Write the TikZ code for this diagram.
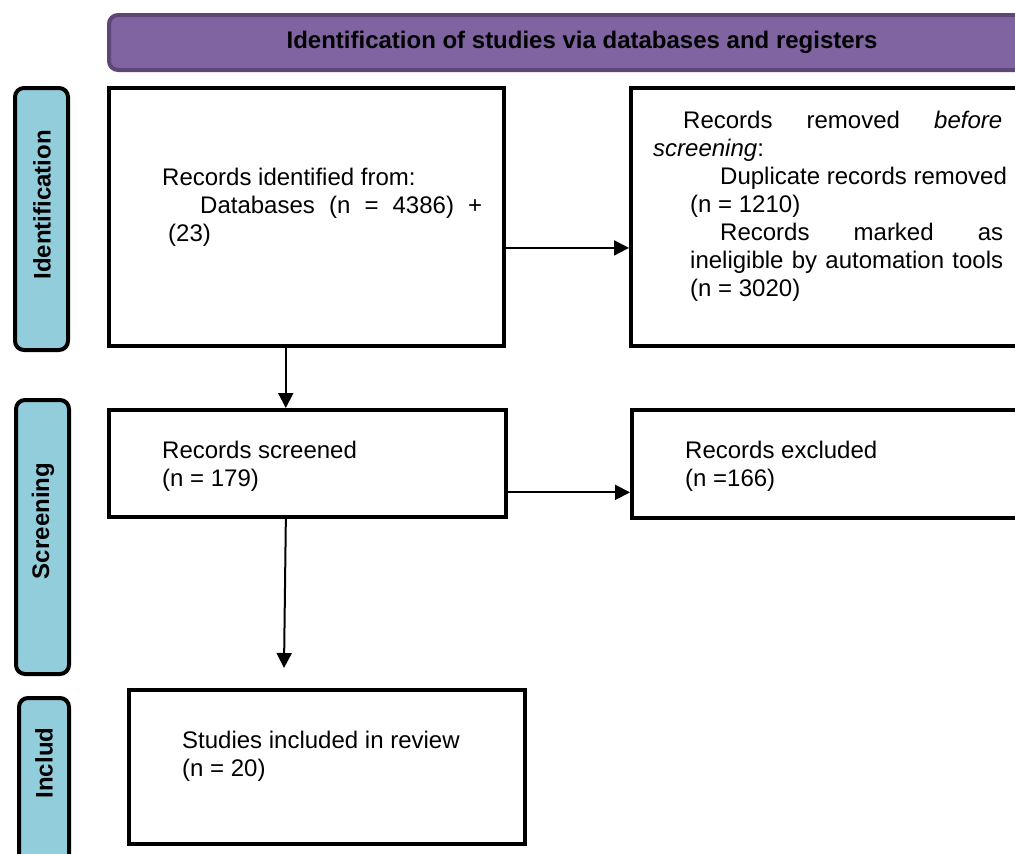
\documentclass[tikz,border=0pt]{standalone}
\usepackage{fontspec}
\setmainfont{Liberation Sans}
\usetikzlibrary{arrows.meta,calc}
\definecolor{hdrfill}{HTML}{8064A2}
\definecolor{hdrdraw}{HTML}{5C4776}
\definecolor{lblfill}{HTML}{92CDDC}
\begin{document}
\begin{tikzpicture}[x=1pt,y=-1pt,
  box/.style={draw=black, line width=4pt, inner sep=0pt, fill=white},
  lbl/.style={draw=black, line width=4pt, rounded corners=9pt, fill=lblfill, inner sep=0pt},
  lbltxt/.style={rotate=90, inner sep=0pt, font=\fontsize{24}{28}\selectfont\bfseries},
  txt/.style={anchor=north west, inner sep=0pt, align=left, font=\fontsize{24}{28}\selectfont},
  arr/.style={-{Triangle[length=15pt,width=15pt]}, line width=2pt}]
\useasboundingbox (0,0) rectangle (1015,854);
\clip (0,0) rectangle (1015,854);
% header
\node[draw=hdrdraw, line width=4pt, rounded corners=9pt, fill=hdrfill, inner sep=0pt,
      minimum width=946pt, minimum height=55pt, font=\fontsize{24}{28}\selectfont\bfseries]
      (hdr) at (582,42.5) {Identification of studies via databases and registers};
% side labels
\node[lbl, minimum width=53pt, minimum height=262pt] (lid) at (41.5,219) {};
\node[lbltxt] (lidt) at (42,205) {Identification};
\node[lbl, minimum width=53pt, minimum height=274pt] (lsc) at (42.5,537) {};
\node[lbltxt] (lsct) at (43,521) {Screening};
\node[lbl, minimum width=50pt, minimum height=182pt] (lin) at (44,789) {};
\node[lbltxt] (lint) at (44,763) {Includ};
% boxes
\node[box, minimum width=395pt, minimum height=258pt] (b1) at (306.5,217) {};
\node[box, minimum width=409pt, minimum height=258pt] (b2) at (835.5,217) {};
\node[box, minimum width=397pt, minimum height=107pt] (b3) at (307.5,463.5) {};
\node[box, minimum width=408pt, minimum height=108pt] (b4) at (836,464) {};
\node[box, minimum width=396pt, minimum height=154pt] (b5) at (327,767) {};
% texts
\node[txt] (t1) at (162,165.4) {\strut Records identified from:\\
  \hspace*{38pt}\makebox[282pt][s]{Databases (n = 4386) +}\\
  \hspace*{6pt}(23)};
\node[txt] (t2) at (653,108.4) {\strut\hspace*{30pt}\makebox[319pt][s]{Records removed \textit{before}}\\
  \textit{screening}:\\
  \hspace*{67pt}Duplicate records removed\\
  \hspace*{37pt}(n = 1210)\\
  \hspace*{67pt}\makebox[283pt][s]{Records marked as}\\
  \hspace*{37pt}\makebox[313pt][s]{ineligible by automation tools}\\
  \hspace*{37pt}(n = 3020)};
\node[txt] (t3) at (162,438.4) {\strut Records screened\\(n = 179)};
\node[txt] (t4) at (685,438.4) {\strut Records excluded\\(n =166)};
\node[txt] (t5) at (182,728.4) {\strut Studies included in review\\(n = 20)};
% arrows
\coordinate (a1) at ($(b1.south east)!0.382!(b1.north east)$);
\draw[arr] (a1) -- (a1 -| b2.west);
\coordinate (a2) at ($(b1.south west)!0.448!(b1.south east)$);
\draw[arr] (a2) -- (a2 |- b3.north);
\coordinate (a3) at ($(b3.south east)!0.24!(b3.north east)$);
\draw[arr] (a3) -- (a3 -| b4.west);
\coordinate (a4) at ($(b3.south west)!0.446!(b3.south east)$);
\coordinate (e4) at (284,668);
\draw[arr] (a4) -- (e4);
\end{tikzpicture}
\end{document}
